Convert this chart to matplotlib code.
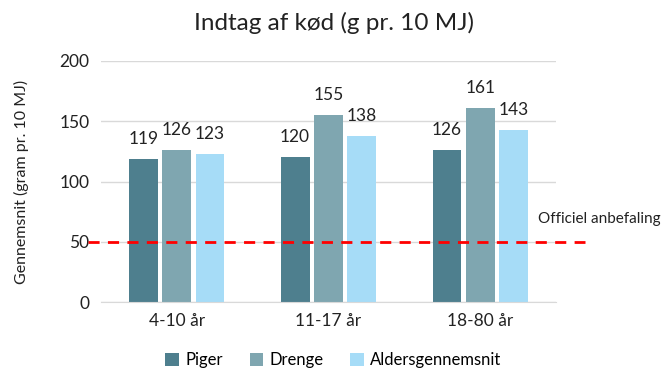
import matplotlib.pyplot as plt
import numpy as np

plt.rcParams['font.family'] = ['Lato', 'DejaVu Sans']

groups = ['4-10 år', '11-17 år', '18-80 år']
series = ['Piger', 'Drenge', 'Aldersgennemsnit']
piger = [119, 120, 126]
drenge = [126, 155, 161]
alders = [123, 138, 143]
anbefaling = 50
colors = ['#4E7F8E', '#7FA6B0', '#A6DCF7']

fig = plt.figure(figsize=(6.67, 3.83), dpi=100)
ax = fig.add_axes([0.151, 0.211, 0.683, 0.63])

x = np.arange(len(groups))
w = 0.19
step = 0.22
for i, (vals, name) in enumerate(zip([piger, drenge, alders], series)):
    pos = x + (i - 1) * step
    ax.bar(pos, vals, w, color=colors[i], label=name, zorder=2)
    for p, v in zip(pos, vals):
        ax.text(p, v + 10, str(v), ha='center', va='bottom', fontsize=12.5, color='#222222')

# Officiel anbefaling line
ax.plot([-0.585, 2.69], [anbefaling, anbefaling], color='#FF0000', linestyle=(0, (4, 3)),
        linewidth=2, clip_on=False, zorder=3)
ax.text(2.38, anbefaling + 19, 'Officiel anbefaling', ha='left', va='center', fontsize=11,
        color='#222222', clip_on=False)

ax.set_xlim(-0.5, 2.5)
ax.set_ylim(0, 200)
ax.set_yticks([0, 50, 100, 150, 200])
ax.set_xticks(x)
ax.set_xticklabels(groups)
ax.yaxis.grid(True, color='#D9D9D9', linewidth=1, zorder=0)
ax.set_axisbelow(True)
for s in ['top', 'right', 'left']:
    ax.spines[s].set_visible(False)
ax.spines['bottom'].set_color('#D9D9D9')
ax.tick_params(length=0, labelsize=12.5, labelcolor='#222222', pad=8)
ax.set_ylabel('Gennemsnit (gram pr. 10 MJ)', fontsize=11.5, color='#222222', labelpad=22)

fig.suptitle('Indtag af kød (g pr. 10 MJ)', y=0.97, fontsize=17.5, color='#222222')
fig.legend(loc='lower center', bbox_to_anchor=(0.5, 0.0), ncol=3, frameon=False,
           fontsize=12, handlelength=0.8, handleheight=0.8, columnspacing=1.6, handletextpad=0.4)

fig.savefig('out.png', dpi=100)
